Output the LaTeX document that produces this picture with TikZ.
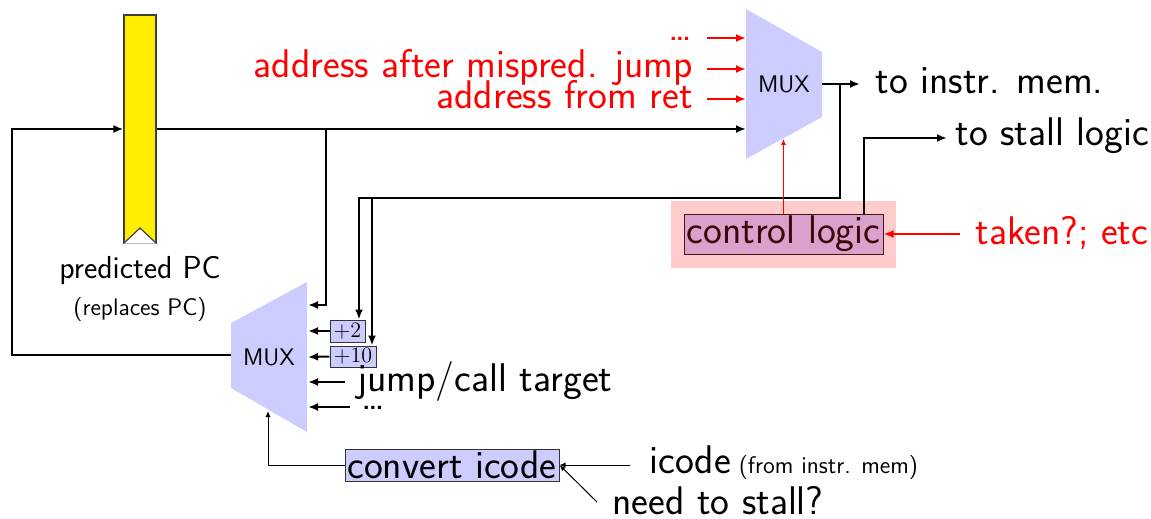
\documentclass[tikz,border=0pt]{standalone}
\usepackage{fontspec}
\usetikzlibrary{arrows.meta}
\definecolor{muxblue}{RGB}{204,204,255}
\definecolor{regyellow}{RGB}{255,238,0}
\definecolor{ctlbg}{RGB}{255,204,204}
\definecolor{ctlfill}{RGB}{216,162,204}
\definecolor{ctltext}{RGB}{58,8,8}
\definecolor{ctlborder}{RGB}{70,20,20}
\newcommand\bigf{\sffamily\fontsize{20}{24}\selectfont}
\newcommand\midf{\sffamily\fontsize{15.9}{19}\selectfont}
\newcommand\smallf{\sffamily\fontsize{12}{14}\selectfont}
\newcommand\muxf{\sffamily\fontsize{12}{14}\selectfont}
\tikzset{
  wire/.style={line width=1pt,-{Latex[length=5pt,width=4pt]}},
  thinwire/.style={line width=0.5pt,-{Latex[length=3pt,width=2.5pt]}},
  redwire/.style={wire,draw=red},
  thinred/.style={thinwire,draw=red},
  lbl/.style={font=\bigf,inner sep=0pt},
  muxshape/.style={fill=muxblue},
  muxlbl/.style={font=\muxf,inner sep=0pt},
  pbox/.style={draw=black!80,fill=muxblue,inner sep=0pt,line width=0.5pt,font=\rmfamily\fontsize{11}{13}\selectfont},
  cibox/.style={draw=black!80,fill=muxblue,inner sep=0pt,line width=0.5pt,font=\bigf},
  ctlbox/.style={draw=ctlborder,fill=ctlfill,text=ctltext,inner sep=0pt,line width=0.5pt,font=\bigf},
}
\begin{document}
\begin{tikzpicture}[x=0.5pt,y=-0.5pt]
\useasboundingbox (0,0) rectangle (1151,519);

% register
\node[draw=black!75,fill=regyellow,minimum width=16pt,minimum height=114pt,inner sep=0pt,line width=0.6pt] (reg) at (140,129) {};
\draw[draw=black!75,fill=white,line width=0.6pt] (reg.south west) -- (140,228) -- (reg.south east);
\node[font=\midf,inner sep=0pt,anchor=base] (ppc) at (140,278) {predicted PC};
\node[font=\smallf,inner sep=0pt,anchor=base] (rpc) at (140,315) {(replaces PC)};

% top mux
\fill[muxshape] (746,9) -- (822,52) -- (822,117) -- (746,159) -- cycle;
\node[muxlbl] (mux1) at (784,84) {MUX};
\coordinate (m1a) at (746,38);
\coordinate (m1b) at (746,69);
\coordinate (m1c) at (746,99);
\coordinate (m1d) at (746,129);
\coordinate (m1sel) at (783.5,139);
\coordinate (m1out) at (822,84);
\coordinate (imem) at (860,84);

% bottom mux
\fill[muxshape] (307,282) -- (231,323) -- (231,388) -- (307,432) -- cycle;
\node[muxlbl] (mux2) at (269,357) {MUX};
\coordinate (m2a) at (308,305);
\coordinate (m2b) at (308,331);
\coordinate (m2c) at (308,357);
\coordinate (m2d) at (308,382);
\coordinate (m2e) at (308,407);
\coordinate (m2sel) at (268,411);
\coordinate (m2out) at (231,355);

% red inputs of top mux
\node[lbl,red,anchor=base east] (rd) at (693,41) {\ldots};
\node[lbl,red,anchor=base east] (ra) at (693,78) {address after mispred. jump};
\node[lbl,red,anchor=base east] (rr) at (693,109) {address from ret};
\draw[redwire] ([shift={(7pt,1.5pt)}]rd.base east) -- (m1a);
\draw[redwire] ([shift={(7pt,4.5pt)}]ra.base east) -- (m1b);
\draw[redwire] ([shift={(7pt,5pt)}]rr.base east) -- (m1c);

% register output
\coordinate (br1) at (326,129);
\draw[wire] (reg.east) -- (m1d);
\draw[wire] (br1) -- (326,305) -- (m2a);

% top mux output
\node[lbl,anchor=base west] (timem) at (875,94) {to instr. mem.};
\draw[wire] (m1out) -- (imem);

% adders
\node[pbox,minimum width=17.5pt,minimum height=11pt] (p2) at (347.5,331) {+2};
\node[pbox,minimum width=23pt,minimum height=10.5pt] (p10) at (353,356.5) {+10};
\coordinate (br2) at (840,84);
\draw[wire] (br2) -- (840,198) -- (359,198) -- (359,0 |- p2.north);
\draw[wire] (840,190) -- (840,198) -- (372,198) -- (372,0 |- p10.north);
\draw[wire] (p2.west) -- (m2b);
\draw[wire] (p10.west) -- (m2c);

% other bottom mux inputs
\node[lbl,anchor=base west] (jct) at (357,391) {jump/call target};
\draw[wire] ([shift={(-6pt,4.5pt)}]jct.base west) -- (m2d);
\node[lbl,anchor=base west] (bd) at (361,409) {\ldots};
\draw[wire] ([shift={(-5.5pt,1pt)}]bd.base west) -- (m2e);

% bottom mux output loop
\draw[wire] (m2out) -- (12,355) -- (12,129) -- (reg.west);

% convert icode
\node[cibox,minimum width=107pt,minimum height=16pt] (ci) at (452,465) {convert icode};
\draw[thinwire] (ci.west) -- (268,465) -- (m2sel);
\node[lbl,anchor=base west] (icl) at (649,473) {icode{\smallf{} (from instr. mem)}};
\draw[thinwire] ([shift={(-9.5pt,4pt)}]icl.base west) -- (ci.east);
\node[lbl,anchor=base west] (nts) at (612,514) {need to stall?};
\draw[thinwire] ([shift={(-7.5pt,6pt)}]nts.base west) -- (ci.east);

% control logic
\node[fill=ctlbg,minimum width=112.5pt,minimum height=33.5pt,inner sep=0pt] (ctlbg) at (783.5,234.5) {};
\node[ctlbox,minimum width=99.5pt,minimum height=20pt] (ctl) at (783.5,234) {control logic};
\draw[thinred] (ctl.north) -- (m1sel);
\coordinate (stl) at (947,138);
\draw[wire] (864,0 |- ctl.north) -- (864,138) -- (stl);
\node[lbl,anchor=base west] (tsl) at (955,146) {to stall logic};
\node[lbl,red,anchor=base west] (tkn) at (975,244) {taken?; etc};
\draw[redwire] ([shift={(-7.5pt,5pt)}]tkn.base west) -- (ctl.east);
\end{tikzpicture}
\end{document}
